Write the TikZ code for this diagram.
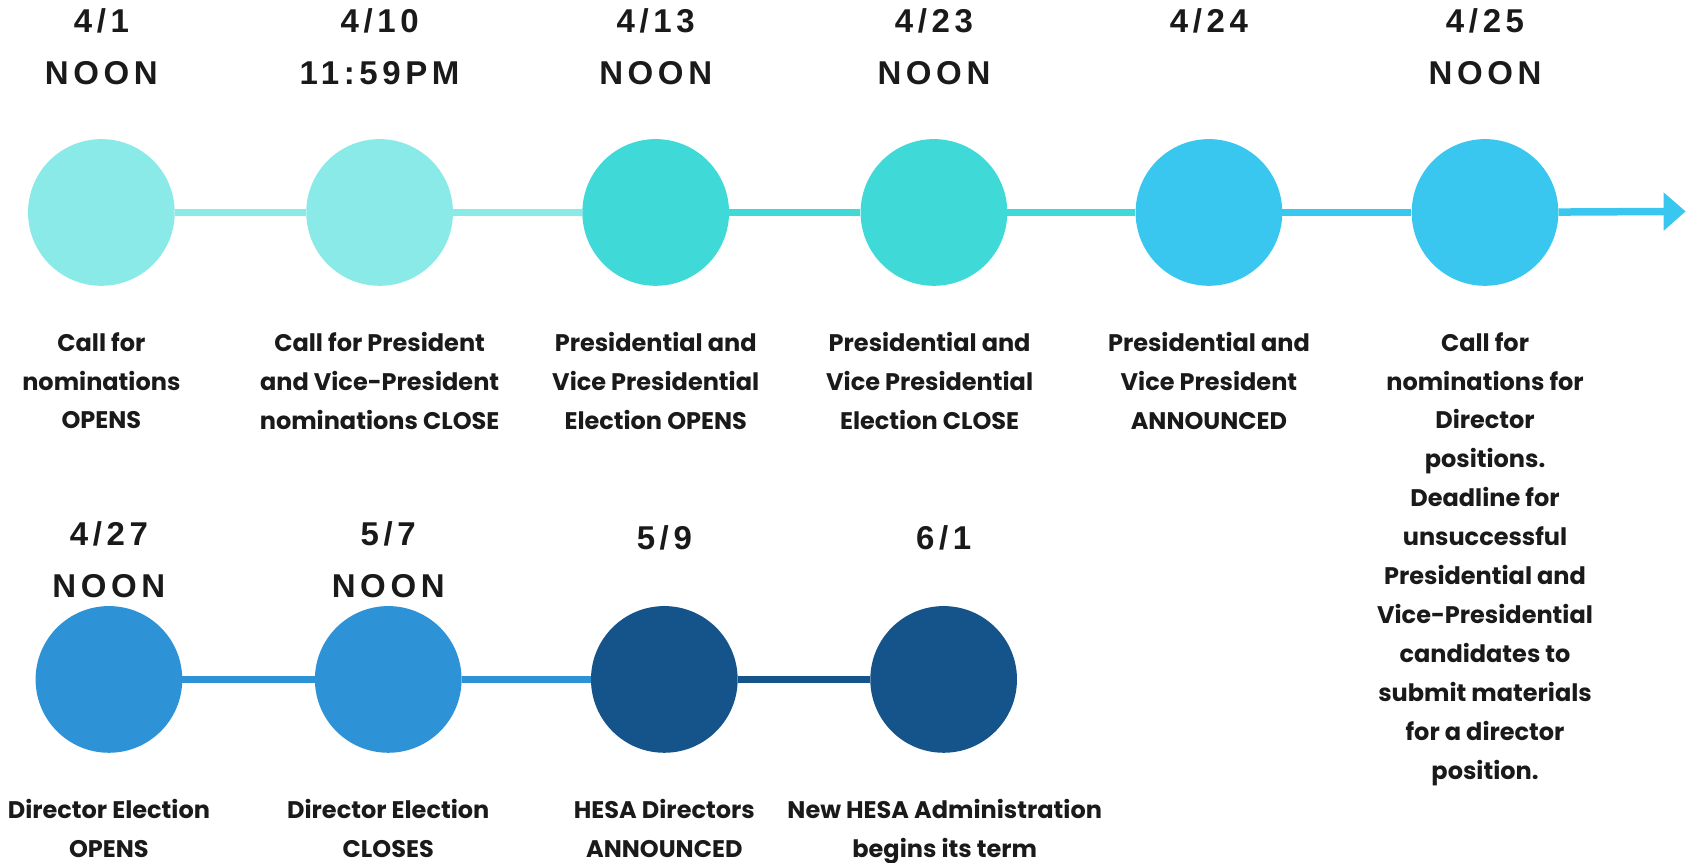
\documentclass[tikz,border=0pt]{standalone}
\usepackage{fontspec}
\usetikzlibrary{arrows.meta}
\newfontfamily\datefont[LetterSpace=14]{Liberation Sans}
\newfontfamily\descfont{Poppins}
\definecolor{paleteal}{HTML}{89EAE8}
\definecolor{turq}{HTML}{3FD9D7}
\definecolor{sky}{HTML}{39C7F0}
\definecolor{midblue}{HTML}{2E92D7}
\definecolor{navy}{HTML}{15548A}
\definecolor{ink}{HTML}{1A1A1A}
\begin{document}
\begin{tikzpicture}[x=1.0785pt,y=-1.0785pt,
	dot/.style={circle,minimum size=146.7pt,inner sep=0pt},
	datelbl/.style={font=\datefont\bfseries\fontsize{33}{52}\selectfont,align=center,anchor=north,inner sep=0pt,text=ink},
	desc/.style={font=\descfont\bfseries\fontsize{24}{38.9}\selectfont,align=center,anchor=north,inner sep=0pt,text=ink},
	link/.style={line width=7.5pt}]
	\useasboundingbox[fill=white] (0,0) rectangle (1568,800.2);
	% top row
	\node[dot,fill=paleteal] (d1) at (94,197) {};
	\node[dot,fill=paleteal] (d2) at (352,197) {};
	\node[dot,fill=turq] (d3) at (608,197) {};
	\node[dot,fill=turq] (d4) at (866,197) {};
	\node[dot,fill=sky] (d5) at (1121,197) {};
	\node[dot,fill=sky] (d6) at (1377,197) {};
	\coordinate (tip) at (1563,196);
	\draw[link,paleteal] (d1) -- (d2);
	\draw[link,paleteal] (d2) -- (d3);
	\draw[link,turq] (d3) -- (d4);
	\draw[link,turq] (d4) -- (d5);
	\draw[link,sky] (d5) -- (d6);
	\draw[link,sky,-{Triangle[length=22pt,width=37pt]}] (d6) -- (tip);
	\node[datelbl] (t1) at (94,8) {4/1\\NOON};
	\node[datelbl] (t2) at (352,8) {4/10\\11:59PM};
	\node[datelbl] (t3) at (608,8) {4/13\\NOON};
	\node[datelbl] (t4) at (866,8) {4/23\\NOON};
	\node[datelbl] (t5) at (1121,8) {4/24};
	\node[datelbl] (t6) at (1377,8) {4/25\\NOON};
	\node[desc] (s1) at (94,308) {Call for\\nominations\\OPENS};
	\node[desc] (s2) at (352,308) {Call for President\\and Vice-President\\nominations CLOSE};
	\node[desc] (s3) at (608,308) {Presidential and\\Vice Presidential\\Election OPENS};
	\node[desc] (s4) at (862,308) {Presidential and\\Vice Presidential\\Election CLOSE};
	\node[desc] (s5) at (1121,308) {Presidential and\\Vice President\\ANNOUNCED};
	\node[desc] (s6) at (1377,308) {Call for\\nominations for\\Director\\positions.\\Deadline for\\unsuccessful\\Presidential and\\Vice-Presidential\\candidates to\\submit materials\\for a director\\position.};
	% bottom row
	\node[dot,fill=midblue] (e1) at (101,630) {};
	\node[dot,fill=midblue] (e2) at (360,630) {};
	\node[dot,fill=navy] (e3) at (616,630) {};
	\node[dot,fill=navy] (e4) at (875,630) {};
	\draw[link,midblue] (e1) -- (e2);
	\draw[link,midblue] (e2) -- (e3);
	\draw[link,navy] (e3) -- (e4);
	\node[datelbl] (u1) at (101,483) {4/27\\NOON};
	\node[datelbl] (u2) at (360,483) {5/7\\NOON};
	\node[datelbl] (u3) at (616,487) {5/9};
	\node[datelbl] (u4) at (875,487) {6/1};
	\node[desc] (r1) at (101,741) {Director Election\\OPENS};
	\node[desc] (r2) at (360,741) {Director Election\\CLOSES};
	\node[desc] (r3) at (616,741) {HESA Directors\\ANNOUNCED};
	\node[desc] (r4) at (876,741) {New HESA Administration\\begins its term};
\end{tikzpicture}
\end{document}
